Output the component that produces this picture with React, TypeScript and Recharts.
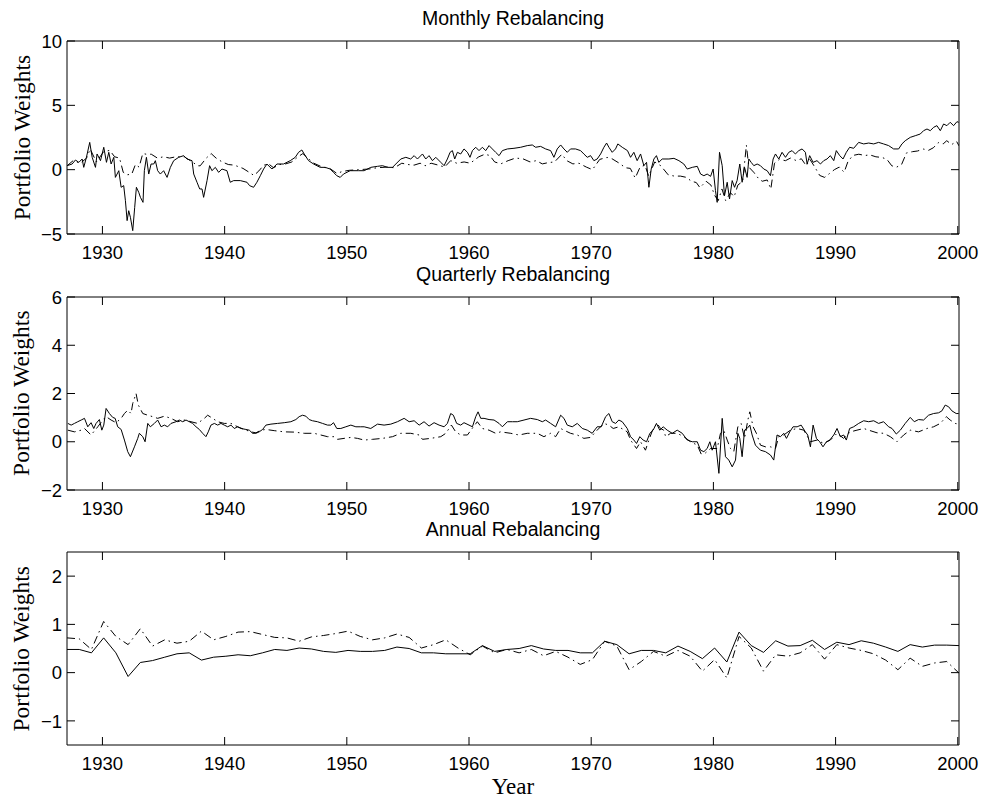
import React from 'react';
import { LineChart, Line, XAxis, YAxis, ReferenceArea } from 'recharts';

// ---------- tick labels ----------
const yearTicks = [1930, 1940, 1950, 1960, 1970, 1980, 1990, 2000];
const monthlyTicks = [-5, 0, 5, 10];
const quarterlyTicks = [-2, 0, 2, 4, 6];
const annualTicks = [-1, 0, 1, 2];
const titles = ['Monthly Rebalancing', 'Quarterly Rebalancing', 'Annual Rebalancing'];

// ---------- data: [year, weight] ----------
const monthlySolid: [number, number][] = [
  [1927.11, 0.31], [1927.52, 0.44], [1927.79, 0.75], [1928.07, 0.57], [1928.34, 0.83], [1928.47, 0.18], [1928.69, 0.96],
  [1928.96, 2.12], [1929.16, 0.96], [1929.43, 0.18], [1929.56, 1.22], [1929.84, 0.7], [1930.11, 1.74], [1930.33, 0.57],
  [1930.52, 1.35], [1930.71, 0.44], [1930.93, 0.96], [1931.06, -0.6], [1931.34, -0.08], [1931.53, -1.37], [1931.74, -1.24],
  [1931.88, -2.41], [1932.02, -3.96], [1932.15, -3.19], [1932.29, -3.7], [1932.48, -4.74], [1932.64, -2.93], [1932.78, -1.37],
  [1932.97, -1.76], [1933.11, -2.15], [1933.32, -2.54], [1933.43, -0.08], [1933.6, 0.96], [1933.79, -0.34], [1933.98, 0.44],
  [1934.2, 0.44], [1934.33, 0.7], [1934.52, -0.08], [1934.74, -0.34], [1935.01, -0.08], [1935.29, -0.6], [1935.56, 0.18],
  [1935.83, 0.7], [1936.24, 0.96], [1936.65, 1.09], [1936.92, 0.83], [1937.33, 0.7], [1937.47, -0.34], [1937.74, -0.98],
  [1937.96, -1.5], [1938.15, -1.5], [1938.28, -2.15], [1938.56, -0.85], [1938.77, 0.31], [1938.96, -0.08], [1939.24, 0.18],
  [1939.51, -0.21], [1939.78, 0.05], [1940.19, -0.08], [1940.46, -0.98], [1940.74, -0.85], [1941.28, -0.85], [1941.83, -0.98],
  [1942.04, -1.24], [1942.37, -1.37], [1942.64, -0.98], [1942.92, -0.47], [1943.19, 0.05], [1943.46, 0.44], [1943.87, 0.05],
  [1944.28, 0.44], [1944.82, 0.44], [1945.37, 0.7], [1945.78, 0.96], [1946.05, 1.35], [1946.32, 1.53], [1946.51, 1.22],
  [1946.87, 0.7], [1947.28, 0.44], [1947.82, 0.18], [1948.23, 0.18], [1948.64, 0.05], [1948.91, -0.21], [1949.18, -0.47],
  [1949.46, -0.6], [1949.73, -0.34], [1950.27, -0.08], [1950.95, -0.08],
  [1951.42, -0.08], [1951.96, 0.18], [1952.51, 0.26], [1952.92, 0.31], [1953.33, 0.18], [1953.74, 0.18], [1954.01, 0.44],
  [1954.42, 0.83], [1954.83, 0.96], [1955.23, 0.83], [1955.51, 1.09], [1955.78, 0.83], [1956.19, 1.22], [1956.46, 0.83],
  [1956.73, 1.09], [1957.01, 0.7], [1957.28, 0.96], [1957.69, 0.57], [1957.96, 0.31], [1958.23, 0.83], [1958.45, 1.35],
  [1958.64, 1.48], [1958.83, 0.83], [1959.05, 1.35], [1959.32, 1.22], [1959.59, 1.61], [1959.87, 1.35], [1960.08, 0.96],
  [1960.28, 1.48], [1960.55, 1.74], [1960.82, 1.48], [1961.09, 1.74], [1961.37, 1.48], [1961.64, 1.87], [1961.91, 1.61],
  [1962.18, 1.35], [1962.46, 1.09], [1962.73, 1.48], [1963.14, 1.61], [1963.68, 1.66], [1964.23, 1.74], [1964.77, 1.87],
  [1965.18, 1.92], [1965.45, 1.74], [1965.86, 1.81], [1966.27, 1.61], [1966.68, 1.48], [1966.95, 0.96], [1967.22, 1.61],
  [1967.5, 1.92], [1967.77, 1.61], [1968.04, 1.35], [1968.31, 1.61], [1968.72, 1.61], [1969.13, 1.48], [1969.4, 1.22],
  [1969.68, 0.96], [1969.95, 1.09], [1970.22, 0.7], [1970.49, 0.83], [1970.77, 1.22], [1971.04, 1.74], [1971.26, 2.07],
  [1971.45, 1.74], [1971.72, 1.35], [1971.99, 1.61], [1972.18, 2.0], [1972.54, 1.74], [1972.97, 1.48], [1973.22, 0.96],
  [1973.49, 1.35], [1973.76, 0.7], [1974.04, 1.22], [1974.31, 0.31], [1974.53, 0.57], [1974.72, -1.37], [1974.91, 0.05],
  [1975.13, 0.83], [1975.34, 1.09], [1975.53, 0.57], [1975.81, 0.83],
  [1976.36, 0.83], [1976.77, 0.88], [1977.18, 0.7], [1977.58, 0.44], [1977.86, 0.05], [1978.27, 0.18], [1978.68, 0.26],
  [1978.95, -0.34], [1979.22, -0.47], [1979.49, -0.34], [1979.77, -0.52], [1979.98, 0.05], [1980.17, -1.63], [1980.31, -2.54],
  [1980.5, 1.35], [1980.72, 0.31], [1980.91, -2.02], [1981.13, -0.98], [1981.32, -2.28], [1981.54, -0.85], [1981.73, -1.37],
  [1981.94, -0.85], [1982.16, 0.44], [1982.35, -0.98], [1982.55, 0.18], [1982.76, -0.6], [1982.9, 0.83], [1983.09, 0.57],
  [1983.31, 0.31], [1983.58, 0.44], [1983.85, 0.31], [1984.12, 0.05], [1984.4, -0.08], [1984.67, -0.47], [1984.89, 0.83],
  [1985.08, 1.22], [1985.35, 0.83], [1985.62, 1.35], [1985.9, 0.96], [1986.17, 1.35], [1986.44, 1.48], [1986.71, 1.22],
  [1986.99, 1.48], [1987.26, 1.61], [1987.53, 1.35], [1987.67, 0.44], [1987.88, 1.09], [1988.16, 0.57], [1988.48, 0.7],
  [1988.76, 0.44], [1989.03, 0.7], [1989.3, 0.83], [1989.57, 1.09], [1989.85, 0.7], [1990.06, 1.48], [1990.34, 1.09],
  [1990.61, 0.83], [1990.88, 1.35], [1991.15, 1.74], [1991.48, 1.66], [1991.89, 2.12], [1992.3, 2.0], [1992.71, 2.07],
  [1993.12, 2.0], [1993.52, 2.12], [1993.93, 2.0], [1994.34, 1.87], [1994.75, 1.61], [1995.16, 1.61], [1995.43, 2.0],
  [1995.7, 2.25], [1996.11, 2.51], [1996.52, 2.64], [1996.93, 2.77], [1997.2, 3.03], [1997.48, 3.16], [1997.75, 3.03],
  [1998.02, 3.29], [1998.29, 3.42], [1998.57, 3.03], [1998.84, 3.55], [1999.11, 3.42], [1999.38, 3.68], [1999.66, 3.42],
  [1999.93, 3.73], [2000.07, 3.68],
];

const monthlyDashDot: [number, number][] = [
  [1927.1, 0.3], [1927.6, 0.7], [1928.2, 0.5], [1928.7, 0.9], [1929.0, 1.6], [1929.5, 0.6], [1930.1, 1.4], [1930.6, 1.5],
  [1931.0, 1.0], [1931.4, 0.9], [1931.7, -0.2], [1932.0, -0.4], [1932.4, -0.35], [1932.7, 0.4], [1933.0, 0.2], [1933.3, 1.25],
  [1933.6, 1.2], [1934.0, 1.2], [1934.5, 0.9], [1935.0, 1.0], [1935.5, 0.9], [1936.0, 1.0], [1936.7, 1.0], [1937.2, 0.7],
  [1937.8, 0.3], [1938.0, 0.3], [1938.5, 0.9], [1938.9, 1.25], [1939.3, 0.9], [1939.8, 0.6], [1940.3, 0.4], [1940.8, 0.35],
  [1941.5, 0.1], [1942.0, -0.2], [1942.4, -0.45], [1942.8, -0.1], [1943.2, 0.35], [1943.6, 0.45], [1944.0, 0.15], [1944.5, 0.4],
  [1945.0, 0.45], [1945.5, 0.6], [1946.0, 1.0], [1946.4, 1.25], [1946.8, 0.9], [1947.3, 0.5], [1948.0, 0.2], [1948.6, 0.1],
  [1949.2, -0.3], [1949.6, -0.15], [1950.2, -0.05], [1951.0, 0.0], [1951.8, 0.05], [1952.5, 0.15], [1953.3, 0.2], [1953.9, 0.15],
  [1954.5, 0.5], [1955.0, 0.4], [1955.5, 0.35], [1956.0, 0.5], [1956.4, 0.3], [1956.9, 0.5], [1957.5, 0.35], [1958.0, 0.2],
  [1958.5, 0.7], [1959.0, 0.5], [1959.6, 0.6], [1960.1, 0.5], [1960.8, 1.0], [1961.3, 1.2], [1961.7, 1.1], [1962.1, 0.6],
  [1962.6, 0.45], [1963.2, 0.7], [1963.8, 0.9], [1964.4, 0.85], [1965.0, 0.6], [1965.5, 0.7], [1966.0, 0.45], [1966.5, 0.55],
  [1967.0, 0.6], [1967.6, 1.2], [1968.0, 0.7], [1968.5, 0.45], [1969.0, 0.5], [1969.6, 0.2], [1970.1, 0.0], [1970.7, 0.8],
  [1971.3, 0.95], [1971.7, 0.85], [1972.3, 0.5], [1972.8, 0.15], [1973.2, 0.1], [1973.6, -0.65], [1974.0, 0.2], [1974.4, 0.35],
  [1974.7, -0.5], [1975.2, 0.6], [1975.7, 0.3], [1976.3, -0.4], [1976.8, -0.5], [1977.3, -0.5], [1977.8, -0.6], [1978.2, -0.9],
  [1978.6, -1.0], [1978.9, -1.4], [1979.4, -0.9], [1979.8, -1.2], [1980.1, -2.0], [1980.4, -2.4], [1980.7, -1.5], [1981.0, -2.4],
  [1981.4, -1.8], [1981.7, -2.1], [1982.0, -1.2], [1982.4, -0.9], [1982.7, 1.9], [1982.9, 0.2], [1983.3, -0.2], [1983.7, -0.7],
  [1984.0, -0.9], [1984.4, -0.8], [1984.7, -1.5], [1985.0, 0.5], [1985.4, 0.8], [1985.9, 0.7], [1986.3, 0.9], [1986.8, 0.7],
  [1987.2, 0.85], [1987.6, 0.3], [1987.9, 0.8], [1988.3, 0.2], [1988.7, -0.45], [1989.1, -0.6], [1989.5, -0.3], [1989.9, 0.0],
  [1990.3, 0.2], [1990.7, -0.2], [1991.0, 0.6], [1991.4, 1.1], [1991.9, 1.2], [1992.4, 1.1], [1992.8, 1.15], [1993.3, 1.0],
  [1993.8, 0.95], [1994.2, 0.8], [1994.6, 0.3], [1995.0, 0.2], [1995.4, 0.4], [1995.8, 1.3], [1996.3, 1.4], [1996.7, 1.45],
  [1997.2, 1.6], [1997.6, 1.5], [1998.0, 1.7], [1998.4, 2.1], [1998.8, 2.0], [1999.1, 2.25], [1999.5, 1.95], [1999.9, 2.2],
  [2000.1, 1.85],
];

const quarterlySolid: [number, number][] = [
  [1927.17, 0.76], [1927.44, 0.69], [1927.71, 0.76], [1927.98, 0.83], [1928.26, 0.9], [1928.53, 0.97], [1928.8, 0.62],
  [1929.07, 0.79], [1929.29, 0.55], [1929.48, 0.76], [1929.75, 0.92], [1929.95, 0.48], [1930.11, 0.69], [1930.3, 1.38],
  [1930.57, 1.17], [1930.84, 1.01], [1931.04, 0.97], [1931.25, 0.62], [1931.53, 0.51], [1931.8, 0.07], [1932.07, -0.41],
  [1932.29, -0.62], [1932.62, -0.21], [1932.89, 0.14], [1933.02, 0.35], [1933.3, 0.21], [1933.49, 0.0], [1933.71, 0.76],
  [1933.92, 0.62], [1934.25, 0.76], [1934.52, 0.9], [1934.8, 0.62], [1935.07, 0.69], [1935.34, 0.62], [1935.61, 0.76],
  [1936.02, 0.83], [1936.29, 0.9], [1936.57, 0.83], [1936.84, 0.9], [1937.11, 0.83], [1937.38, 0.76], [1937.66, 0.62],
  [1937.93, 0.51], [1938.2, 0.35], [1938.47, 0.21], [1938.66, 0.41], [1938.88, 0.69], [1939.16, 0.76], [1939.43, 0.69],
  [1939.7, 0.76], [1939.97, 0.69], [1940.25, 0.62], [1940.52, 0.69], [1940.79, 0.55], [1941.06, 0.62], [1941.34, 0.55],
  [1941.74, 0.51], [1942.02, 0.48], [1942.29, 0.35], [1942.56, 0.35], [1942.83, 0.41], [1943.11, 0.51], [1943.38, 0.69],
  [1943.79, 0.73], [1944.33, 0.76], [1944.88, 0.79], [1945.42, 0.83], [1945.83, 0.92], [1946.1, 1.04], [1946.38, 1.1],
  [1946.65, 1.06], [1946.92, 0.92], [1947.19, 0.87], [1947.6, 0.83], [1948.01, 0.76], [1948.42, 0.69], [1948.69, 0.69],
  [1948.91, 0.79], [1949.18, 0.55], [1949.51, 0.55], [1949.92, 0.62], [1950.33, 0.69], [1950.74, 0.62], [1951.14, 0.62],
  [1951.42, 0.62], [1951.96, 0.55], [1952.51, 0.73], [1953.05, 0.69], [1953.6, 0.73], [1954.14, 0.83], [1954.69, 0.97],
  [1955.1, 0.83], [1955.51, 0.87], [1955.92, 0.69], [1956.32, 0.83], [1956.73, 0.65], [1957.14, 0.79], [1957.55, 0.69],
  [1957.96, 0.62], [1958.23, 0.76], [1958.5, 1.17], [1958.72, 1.1], [1958.99, 0.76], [1959.32, 0.69], [1959.59, 0.79],
  [1960.0, 0.69], [1960.28, 0.62], [1960.55, 1.04], [1960.74, 1.24], [1960.96, 0.97], [1961.23, 0.97], [1961.64, 0.92],
  [1962.05, 0.9], [1962.46, 0.76], [1962.73, 0.62], [1963.14, 0.83], [1963.55, 0.83], [1963.95, 0.83], [1964.5, 0.9],
  [1965.04, 0.97], [1965.59, 0.92], [1966.0, 0.83], [1966.27, 0.9], [1966.68, 0.76], [1967.09, 0.62], [1967.5, 1.1],
  [1967.77, 0.97], [1968.04, 0.69], [1968.45, 0.62], [1968.86, 0.76], [1969.27, 0.55], [1969.68, 0.48], [1970.08, 0.35],
  [1970.49, 0.62], [1970.82, 0.62], [1971.18, 1.04], [1971.45, 1.17], [1971.72, 0.83], [1972.0, 0.76], [1972.26, 0.9],
  [1972.54, 0.83], [1972.95, 0.55], [1973.22, 0.21], [1973.49, 0.07], [1973.71, -0.07], [1973.98, 0.21], [1974.25, 0.07],
  [1974.53, 0.0], [1974.8, 0.35], [1975.07, 0.48], [1975.34, 0.76], [1975.61, 0.48], [1975.89, 0.62], [1976.22, 0.48],
  [1976.63, 0.35], [1977.04, 0.48], [1977.45, 0.35], [1977.86, 0.07], [1978.27, 0.0], [1978.68, 0.0], [1978.95, -0.35],
  [1979.22, -0.41], [1979.49, -0.28], [1979.71, 0.0], [1979.9, -0.35], [1980.17, 0.0], [1980.45, -1.31], [1980.72, 0.97],
  [1980.99, -0.62], [1981.26, -0.76], [1981.54, -1.04], [1981.81, -0.76], [1982.0, 0.35], [1982.16, 0.14], [1982.35, -0.62],
  [1982.55, 0.48], [1982.76, 0.55], [1982.98, 0.69], [1983.17, 0.28], [1983.44, -0.14], [1983.85, -0.35], [1984.26, -0.41],
  [1984.67, -0.55], [1984.94, -0.76], [1985.21, 0.28], [1985.49, 0.21], [1985.76, 0.35], [1985.98, 0.14], [1986.25, 0.41],
  [1986.52, 0.62], [1986.85, 0.62], [1987.18, 0.69], [1987.53, 0.41], [1987.72, 0.28], [1987.94, -0.21], [1988.16, 0.69],
  [1988.43, 0.14], [1988.7, 0.0], [1988.97, -0.21], [1989.25, 0.0], [1989.52, 0.07], [1989.85, 0.28], [1990.12, 0.55],
  [1990.39, 0.21], [1990.66, 0.28], [1990.88, 0.07], [1991.15, 0.55], [1991.48, 0.62], [1991.89, 0.76], [1992.3, 0.87],
  [1992.71, 0.83], [1993.12, 0.87], [1993.52, 0.76], [1993.93, 0.83], [1994.34, 0.62], [1994.62, 0.55], [1994.97, 0.32],
  [1995.3, 0.48], [1995.7, 0.76], [1996.11, 1.01], [1996.44, 0.83], [1996.79, 0.92], [1997.2, 0.9], [1997.61, 1.1],
  [1998.02, 1.17], [1998.43, 1.2], [1998.7, 1.28], [1998.97, 1.52], [1999.25, 1.45], [1999.52, 1.28], [1999.87, 1.17],
  [2000.07, 1.17],
];

const quarterlyDashDot: [number, number][] = [
  [1927.17, 0.48], [1927.71, 0.41], [1928.26, 0.48], [1928.53, 0.55], [1929.07, 0.28], [1929.62, 0.62], [1930.03, 0.9],
  [1930.3, 1.04], [1930.71, 0.9], [1931.12, 0.79], [1931.53, 0.97], [1931.8, 1.17], [1932.07, 1.31], [1932.34, 1.17],
  [1932.48, 1.59], [1932.75, 2.0], [1932.94, 1.52], [1933.3, 1.17], [1933.71, 1.1], [1934.11, 1.04], [1934.52, 0.97],
  [1935.07, 1.06], [1935.61, 0.97], [1936.16, 0.83], [1936.7, 0.9], [1937.25, 0.83], [1937.79, 0.76], [1938.34, 0.97],
  [1938.61, 1.1], [1939.02, 0.97], [1939.43, 0.83], [1939.97, 0.76], [1940.52, 0.76], [1941.06, 0.62], [1941.61, 0.51],
  [1942.15, 0.41], [1942.56, 0.37], [1942.97, 0.48], [1943.38, 0.51], [1944.06, 0.46], [1944.88, 0.41], [1945.69, 0.4],
  [1946.51, 0.35], [1947.33, 0.35], [1947.87, 0.28], [1948.42, 0.21], [1948.97, 0.21], [1949.24, 0.1], [1949.78, 0.14],
  [1950.33, 0.18], [1950.87, 0.14],
  [1951.42, 0.07], [1952.1, 0.1], [1952.92, 0.14], [1953.74, 0.21], [1954.42, 0.35], [1955.23, 0.35], [1955.92, 0.28],
  [1956.19, 0.1], [1956.87, 0.14], [1957.69, 0.21], [1958.1, 0.35], [1958.56, 0.69], [1958.91, 0.41], [1959.32, 0.28],
  [1959.87, 0.28], [1960.36, 0.62], [1960.68, 0.83], [1961.09, 0.55], [1961.64, 0.48], [1962.18, 0.35], [1962.59, 0.41],
  [1963.41, 0.35], [1964.09, 0.28], [1964.77, 0.35], [1965.59, 0.35], [1966.13, 0.21], [1966.68, 0.35], [1967.09, 0.21],
  [1967.5, 0.55], [1967.77, 0.48], [1968.31, 0.35], [1968.86, 0.28], [1969.4, 0.14], [1969.95, 0.18], [1970.49, 0.48],
  [1971.04, 0.76], [1971.45, 0.69], [1971.8, 0.55], [1972.26, 0.62], [1972.95, 0.41], [1973.22, 0.07], [1973.71, -0.28],
  [1974.04, 0.0], [1974.44, -0.35], [1974.72, 0.07], [1975.07, 0.55], [1975.4, 0.76], [1975.67, 0.55], [1975.94, 0.48],
  [1976.09, 0.21], [1976.5, 0.35], [1977.04, 0.35], [1977.58, 0.21], [1978.13, 0.0], [1978.68, -0.14], [1979.0, -0.51],
  [1979.36, -0.46], [1979.77, -0.28], [1980.31, -0.28], [1980.58, 0.35], [1980.85, 0.48], [1981.13, 0.07], [1981.4, -0.28],
  [1981.67, -0.41], [1982.0, 0.62], [1982.27, 0.76], [1982.55, 0.14], [1982.82, 0.9], [1982.98, 1.24], [1983.25, 0.62],
  [1983.52, 0.35], [1983.85, -0.14], [1984.26, -0.21], [1984.67, -0.21], [1985.08, -0.28], [1985.35, 0.21], [1985.76, 0.28],
  [1986.3, 0.48], [1986.85, 0.55], [1987.4, 0.48], [1987.94, 0.0], [1988.48, 0.07], [1989.03, -0.07], [1989.57, 0.07],
  [1990.12, 0.35], [1990.66, 0.14], [1991.21, 0.41], [1991.75, 0.48], [1992.3, 0.55], [1992.71, 0.48], [1993.39, 0.37],
  [1993.93, 0.35], [1994.48, 0.21], [1995.02, 0.0], [1995.57, 0.28], [1996.11, 0.48], [1996.79, 0.41], [1997.48, 0.55],
  [1998.02, 0.62], [1998.57, 0.76], [1999.06, 1.04], [1999.38, 0.9], [1999.79, 0.76], [2000.07, 0.73],
];

const annualSolid: [number, number][] = [
  [1927.1, 0.48], [1928.1, 0.48], [1929.1, 0.41], [1930.1, 0.72], [1931.1, 0.41], [1932.1, -0.08], [1933.1, 0.21],
  [1934.1, 0.25], [1935.1, 0.32], [1936.1, 0.39], [1937.1, 0.41], [1938.1, 0.26], [1939.1, 0.32], [1940.1, 0.34],
  [1941.1, 0.37], [1942.1, 0.35], [1943.1, 0.41], [1944.1, 0.48], [1945.1, 0.46], [1946.1, 0.51], [1947.1, 0.49],
  [1948.1, 0.44], [1949.1, 0.42], [1950.1, 0.46], [1951.1, 0.44], [1952.1, 0.44], [1953.1, 0.46], [1954.1, 0.53],
  [1955.1, 0.5], [1956.1, 0.41], [1957.1, 0.41], [1958.1, 0.39], [1959.1, 0.39], [1960.1, 0.39], [1961.1, 0.56],
  [1962.1, 0.44], [1963.1, 0.48], [1964.1, 0.5], [1965.1, 0.56], [1966.1, 0.49], [1967.1, 0.46], [1968.1, 0.46],
  [1969.1, 0.41], [1970.1, 0.41], [1971.1, 0.65], [1972.1, 0.58], [1973.1, 0.39], [1974.1, 0.46], [1975.1, 0.46],
  [1976.1, 0.41], [1977.1, 0.55], [1978.1, 0.44], [1979.1, 0.29], [1980.1, 0.51], [1981.1, 0.22], [1982.1, 0.84],
  [1983.1, 0.56], [1984.1, 0.42], [1985.1, 0.66], [1986.1, 0.55], [1987.1, 0.56], [1988.1, 0.67], [1989.1, 0.48],
  [1990.1, 0.63], [1991.1, 0.58], [1992.1, 0.66], [1993.1, 0.61], [1994.1, 0.53], [1995.1, 0.44], [1996.1, 0.58],
  [1997.1, 0.53], [1998.1, 0.57], [1999.1, 0.57], [2000.1, 0.56],
];

const annualDashDot: [number, number][] = [
  [1927.1, 0.72], [1928.1, 0.7], [1929.1, 0.48], [1930.1, 1.06], [1931.1, 0.75], [1932.1, 0.58], [1933.1, 0.91],
  [1934.1, 0.55], [1935.1, 0.68], [1936.1, 0.61], [1937.1, 0.65], [1938.1, 0.86], [1939.1, 0.68], [1940.1, 0.75],
  [1941.1, 0.84], [1942.1, 0.85], [1943.1, 0.79], [1944.1, 0.73], [1945.1, 0.72], [1946.1, 0.65], [1947.1, 0.74],
  [1948.1, 0.77], [1949.1, 0.81], [1950.1, 0.86], [1951.1, 0.75], [1952.1, 0.68], [1953.1, 0.72], [1954.1, 0.8],
  [1955.1, 0.73], [1956.1, 0.51], [1957.1, 0.58], [1958.1, 0.68], [1959.1, 0.51], [1960.1, 0.37], [1961.1, 0.55],
  [1962.1, 0.41], [1963.1, 0.48], [1964.1, 0.41], [1965.1, 0.48], [1966.1, 0.35], [1967.1, 0.44], [1968.1, 0.32],
  [1969.1, 0.17], [1970.1, 0.27], [1971.1, 0.65], [1972.1, 0.55], [1973.1, 0.06], [1974.1, 0.23], [1975.1, 0.44],
  [1976.1, 0.34], [1977.1, 0.46], [1978.1, 0.34], [1979.1, 0.03], [1980.1, 0.27], [1981.1, -0.11], [1982.1, 0.75],
  [1983.1, 0.51], [1984.1, 0.03], [1985.1, 0.37], [1986.1, 0.34], [1987.1, 0.41], [1988.1, 0.58], [1989.1, 0.28],
  [1990.1, 0.58], [1991.1, 0.51], [1992.1, 0.46], [1993.1, 0.39], [1994.1, 0.26], [1995.1, 0.06], [1996.1, 0.3],
  [1997.1, 0.13], [1998.1, 0.2], [1999.1, 0.23], [2000.1, -0.01],
];

// ---------- layout ----------
const W = 985;
const H = 799;
const X_DOMAIN: [number, number] = [1927.1, 2000.1];
const PLOT_TOP = 10;
const PLOT_H = 193;
const AXIS_W = 67;
const RIGHT_M = 26;
const PLOT_LEFT = AXIS_W;
const PLOT_RIGHT = W - RIGHT_M;
const TICK_LEN = 8;
const SANS = '"Liberation Sans", Arial, Helvetica, sans-serif';
const SERIF = '"Liberation Serif", "Times New Roman", Times, serif';
const panelPlotTops = [41, 296.7, 552.3];

const toRows = (pts: [number, number][]) => pts.map(([t, v]) => ({ t, v }));

const fmt = (v: number) => (v < 0 ? '\u2212' + Math.abs(v) : String(v));

const XTick = (props: any) => {
  const { x, payload } = props;
  const bottom = PLOT_TOP + PLOT_H;
  return (
    <g>
      <line x1={x} x2={x} y1={bottom} y2={bottom - TICK_LEN} stroke="#000" strokeWidth={1} />
      <line x1={x} x2={x} y1={PLOT_TOP} y2={PLOT_TOP + TICK_LEN} stroke="#000" strokeWidth={1} />
      <text x={x} y={bottom + 25} textAnchor="middle" fontFamily={SANS} fontSize={18.5} fill="#000">
        {payload.value}
      </text>
    </g>
  );
};

const YTick = (props: any) => {
  const { y, payload } = props;
  return (
    <g>
      <line x1={PLOT_LEFT} x2={PLOT_LEFT + TICK_LEN} y1={y} y2={y} stroke="#000" strokeWidth={1} />
      <line x1={PLOT_RIGHT - TICK_LEN} x2={PLOT_RIGHT} y1={y} y2={y} stroke="#000" strokeWidth={1} />
      <text x={PLOT_LEFT - 5} y={y} dy="0.36em" textAnchor="end" fontFamily={SANS} fontSize={18.5} fill="#000">
        {fmt(payload.value)}
      </text>
    </g>
  );
};

type PanelProps = {
  plotTop: number;
  solid: [number, number][];
  dash: [number, number][];
  yDomain: [number, number];
  yTicks: number[];
};

const Panel = ({ plotTop, solid, dash, yDomain, yTicks }: PanelProps) => (
  <div style={{ position: 'absolute', left: 0, top: plotTop - PLOT_TOP }}>
    <LineChart
      width={W}
      height={PLOT_TOP + PLOT_H + 40}
      margin={{ top: PLOT_TOP, right: RIGHT_M, bottom: 0, left: 0 }}
    >
      <XAxis
        dataKey="t"
        type="number"
        domain={X_DOMAIN}
        ticks={yearTicks}
        interval={0}
        allowDataOverflow
        height={40}
        tickLine={false}
        axisLine={false}
        tick={(p: any) => <XTick {...p} />}
      />
      <YAxis
        type="number"
        domain={yDomain}
        ticks={yTicks}
        interval={0}
        allowDataOverflow
        width={AXIS_W}
        tickLine={false}
        axisLine={false}
        tick={(p: any) => <YTick {...p} />}
      />
      <ReferenceArea
        x1={X_DOMAIN[0]}
        x2={X_DOMAIN[1]}
        y1={yDomain[0]}
        y2={yDomain[1]}
        fill="none"
        fillOpacity={0}
        stroke="#000"
        strokeWidth={1}
        strokeOpacity={1}
      />
      <Line
        data={toRows(dash)}
        dataKey="v"
        type="linear"
        stroke="#000"
        strokeWidth={1}
        strokeDasharray="8 4 1.5 4"
        dot={false}
        activeDot={false}
        isAnimationActive={false}
      />
      <Line
        data={toRows(solid)}
        dataKey="v"
        type="linear"
        stroke="#000"
        strokeWidth={1}
        dot={false}
        activeDot={false}
        isAnimationActive={false}
      />
    </LineChart>
  </div>
);

export default function App() {
  return (
    <div style={{ position: 'absolute', left: 0, top: 0, width: W, height: H, background: '#fff' }}>
      <Panel plotTop={panelPlotTops[0]} solid={monthlySolid} dash={monthlyDashDot} yDomain={[-5, 10]} yTicks={monthlyTicks} />
      <Panel plotTop={panelPlotTops[1]} solid={quarterlySolid} dash={quarterlyDashDot} yDomain={[-2, 6]} yTicks={quarterlyTicks} />
      <Panel plotTop={panelPlotTops[2]} solid={annualSolid} dash={annualDashDot} yDomain={[-1.5, 2.5]} yTicks={annualTicks} />
      <svg width={W} height={H} style={{ position: 'absolute', left: 0, top: 0, pointerEvents: 'none' }}>
        {panelPlotTops.map((pt, i) => (
          <g key={i}>
            <text x={(PLOT_LEFT + PLOT_RIGHT) / 2} y={pt - 16} textAnchor="middle" fontFamily={SANS} fontSize={19.5} fill="#000">
              {titles[i]}
            </text>
            <text
              x={29.5}
              y={pt + PLOT_H / 2}
              transform={`rotate(-90 29.5 ${pt + PLOT_H / 2})`}
              textAnchor="middle"
              fontFamily={SERIF}
              fontSize={23.5}
              fill="#000"
            >
              Portfolio Weights
            </text>
          </g>
        ))}
        <text x={(PLOT_LEFT + PLOT_RIGHT) / 2} y={794} textAnchor="middle" fontFamily={SERIF} fontSize={23} fill="#000">
          Year
        </text>
      </svg>
    </div>
  );
}
